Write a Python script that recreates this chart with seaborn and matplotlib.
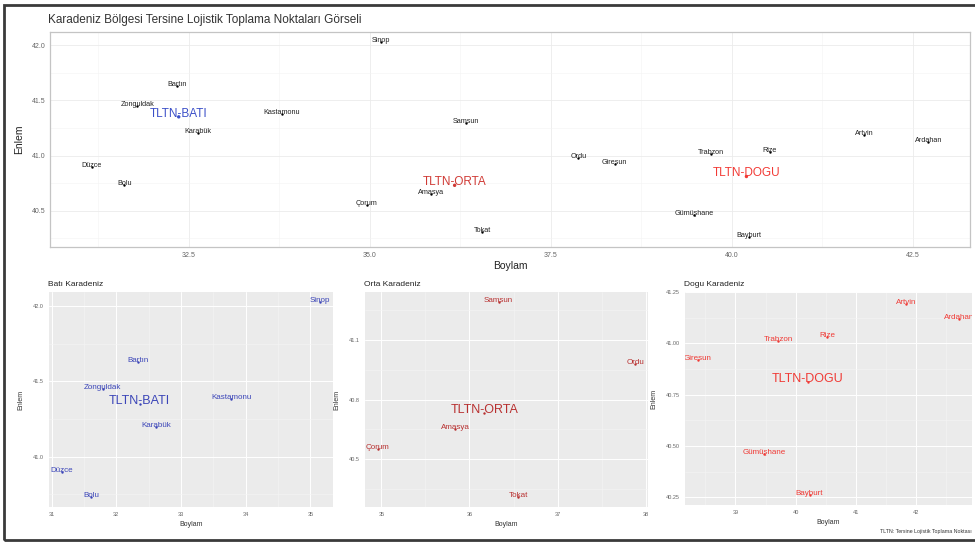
"""
Karadeniz Bölgesi tersine lojistik toplama noktaları:
one overview map on top, one panel per sub-region below.
"""

import matplotlib
matplotlib.use("Agg")
import matplotlib.pyplot as plt
from matplotlib.patches import Rectangle
from matplotlib.ticker import AutoMinorLocator, FormatStrFormatter
import pandas as pd
import seaborn as sns

sns.set_theme(style="whitegrid")
plt.rcParams["font.family"] = ["Liberation Sans", "DejaVu Sans"]

W, H = 975, 545

# --- data ----------------------------------------------------------------
CITIES = ["Sinop", "Bartın", "Zonguldak", "Kastamonu", "Karabük", "Düzce", "Bolu",
          "Samsun", "Amasya", "Çorum", "Tokat", "Ordu",
          "Giresun", "Trabzon", "Rize", "Artvin", "Ardahan", "Gümüşhane", "Bayburt"]
CITY_LON = [35.15, 32.34, 31.79, 33.78, 32.62, 31.16, 31.61,
            36.33, 35.84, 34.96, 36.55, 37.88,
            38.38, 39.71, 40.52, 41.83, 42.71, 39.48, 40.23]
CITY_LAT = [42.03, 41.63, 41.45, 41.38, 41.20, 40.90, 40.73,
            41.29, 40.65, 40.55, 40.31, 40.98,
            40.92, 41.01, 41.03, 41.19, 41.12, 40.46, 40.26]
CITY_REGION = ["Bati"] * 7 + ["Orta"] * 5 + ["Dogu"] * 7

CENTERS = ["TLTN-BATI", "TLTN-ORTA", "TLTN-DOGU"]
CENTER_LON = [32.36, 36.17, 40.20]
CENTER_LAT = [41.35, 40.73, 40.81]
CENTER_REGION = ["Bati", "Orta", "Dogu"]

REGIONS = ["Bati", "Orta", "Dogu"]
REGION_TITLES = ["Batı Karadeniz", "Orta Karadeniz", "Dogu Karadeniz"]
REGION_COLORS = {"Bati": "#3B45B8", "Orta": "#B83030", "Dogu": "#F03A35"}
TOP_CENTER_COLORS = {"Bati": "#3B4FC8", "Orta": "#D03A35", "Dogu": "#F23A35"}

TOP_XTICKS = [32.5, 35.0, 37.5, 40.0, 42.5]
TOP_YTICKS = [40.5, 41.0, 41.5, 42.0]
REGION_XTICKS = {"Bati": [31, 32, 33, 34, 35], "Orta": [35, 36, 37, 38], "Dogu": [39, 40, 41, 42]}
REGION_YTICKS = {"Bati": [41.0, 41.5, 42.0], "Orta": [40.5, 40.8, 41.1],
                 "Dogu": [40.25, 40.50, 40.75, 41.00, 41.25]}
REGION_YFMT = {"Bati": "%.1f", "Orta": "%.1f", "Dogu": "%.2f"}

TITLE = "Karadeniz Bölgesi Tersine Lojistik Toplama Noktaları Görseli"
CAPTION = "TLTN: Tersine Lojistik Toplama Noktası"

cities = pd.DataFrame({"name": CITIES, "lon": CITY_LON, "lat": CITY_LAT, "region": CITY_REGION})
centers = pd.DataFrame({"name": CENTERS, "lon": CENTER_LON, "lat": CENTER_LAT, "region": CENTER_REGION})


def px_axes(fig, left, top, right, bottom):
    """Add axes from pixel box (origin top-left)."""
    return fig.add_axes([left / W, 1 - bottom / H, (right - left) / W, (bottom - top) / H])


def style_ticks(ax, size=4.5):
    ax.tick_params(axis="both", which="major", length=2, width=0.5, color="#777777",
                   labelsize=size, labelcolor="#666666", pad=1.5)
    ax.tick_params(axis="both", which="minor", length=0)
    ax.xaxis.set_minor_locator(AutoMinorLocator(2))
    ax.yaxis.set_minor_locator(AutoMinorLocator(2))


fig = plt.figure(figsize=(W / 100, H / 100), dpi=100)

# --- overview panel (theme_bw look) ---------------------------------------
top = px_axes(fig, 50, 32, 970, 247)
top.set_facecolor("white")
top.grid(True, which="major", color="#EBEBEB", lw=0.6)
top.grid(True, which="minor", color="#F3F3F3", lw=0.4)
for sp in top.spines.values():
    sp.set_color("#C4C4C4")
    sp.set_linewidth(0.9)

sns.scatterplot(data=cities, x="lon", y="lat", color="black", s=3, linewidth=0, ax=top)
sns.scatterplot(data=centers, x="lon", y="lat", hue="region", palette=TOP_CENTER_COLORS,
                s=6, linewidth=0, legend=False, ax=top)
for _, r in cities.iterrows():
    top.text(r.lon, r.lat, r["name"], fontsize=5.2, ha="center", va="baseline", color="#222222")
for _, r in centers.iterrows():
    top.text(r.lon, r.lat, r["name"], fontsize=8.5, ha="center", va="baseline",
             color=TOP_CENTER_COLORS[r.region])

top.margins(0.05)
top.set_xticks(TOP_XTICKS)
top.set_yticks(TOP_YTICKS)
top.xaxis.set_major_formatter(FormatStrFormatter("%.1f"))
top.yaxis.set_major_formatter(FormatStrFormatter("%.1f"))
style_ticks(top, 5)
top.set_xlabel("Boylam", fontsize=7.5, labelpad=1.5, color="#222222")
top.set_ylabel("Enlem", fontsize=7.5, labelpad=5, color="#222222")
fig.text(48 / W, 1 - 20 / H, TITLE, fontsize=8.5, va="center", ha="left", color="#333333")

# --- one panel per region (theme_gray look) -------------------------------
boxes = [(49, 292, 333, 507), (365, 292, 648, 507), (685, 292, 972, 505)]
for region, title, box in zip(REGIONS, REGION_TITLES, boxes):
    ax = px_axes(fig, *box)
    ax.set_facecolor("#EBEBEB")
    ax.grid(True, which="major", color="white", lw=0.7)
    ax.grid(True, which="minor", color="#F5F5F5", lw=0.4)
    for sp in ax.spines.values():
        sp.set_visible(False)

    sub_c = cities[cities.region == region]
    sub_t = centers[centers.region == region]
    color = REGION_COLORS[region]
    sns.scatterplot(data=pd.concat([sub_c, sub_t]), x="lon", y="lat", color=color,
                    s=3, linewidth=0, ax=ax)
    for _, r in sub_c.iterrows():
        ax.text(r.lon, r.lat, r["name"], fontsize=5.8, ha="center", va="baseline",
                color=color, clip_on=True)
    for _, r in sub_t.iterrows():
        ax.text(r.lon, r.lat, r["name"], fontsize=9, ha="center", va="baseline",
                color=color, clip_on=True)

    ax.margins(0.05)
    ax.set_xticks(REGION_XTICKS[region])
    ax.set_yticks(REGION_YTICKS[region])
    ax.yaxis.set_major_formatter(FormatStrFormatter(REGION_YFMT[region]))
    style_ticks(ax, 4)
    ax.set_xlabel("Boylam", fontsize=5, labelpad=3, color="#333333")
    ax.set_ylabel("Enlem", fontsize=5, labelpad=6, color="#333333")
    ax.set_title(title, loc="left", fontsize=6, pad=4, color="#222222", x=-0.005)

fig.text(972 / W, 1 - 532 / H, CAPTION, fontsize=3.8, ha="right", va="center", color="#333333")

# scanned-figure frame
fig.patches.append(Rectangle((4 / W, 5 / H), 980 / W, 535 / H, transform=fig.transFigure,
                             fill=False, ec="#3A3A3A", lw=2))

fig.savefig("out.png", dpi=100)
